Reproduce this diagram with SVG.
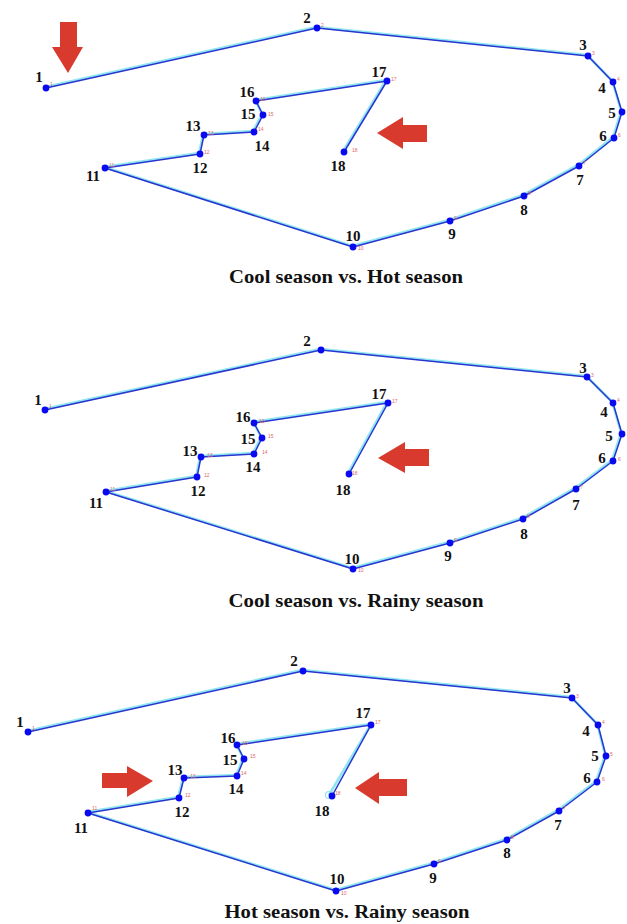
<svg xmlns="http://www.w3.org/2000/svg" width="627" height="924" viewBox="0 0 627 924">
<style>
.bg{fill:#ffffff}
.cy{fill:none;stroke:#8ee6f2;stroke-width:2.6;stroke-linejoin:round}
.bl{fill:none;stroke:#2a35cf;stroke-width:1.5;stroke-linejoin:round}
.dot{fill:#0a0af0}
.lab{font-family:"Liberation Serif","Times New Roman",serif;font-weight:bold;font-size:15px;fill:#111;text-anchor:middle}
.sm{font-family:"Liberation Sans",Arial,sans-serif;font-size:5px;fill:#e06a6a}
.ttl{font-family:"Liberation Serif","Times New Roman",serif;font-weight:bold;font-size:19px;fill:#111;text-anchor:middle}
.arr{fill:#d83a2e}
</style>
<rect class="bg" x="0" y="0" width="627" height="924"/>

<!-- Panel 1 -->
<g id="p1-connectors">
<polyline class="cy" transform="translate(-0.8,-1)" points="46,88 317,28 588,56 613,82 622,112 614,138 579,166 524,196 450,221 353,247 105,168 200,154 204,135 254,132 263,115 256,101 387,81 344,152"/>
<polyline class="bl" points="46,88 317,28 588,56 613,82 622,112 614,138 579,166 524,196 450,221 353,247 105,168 200,154 204,135 254,132 263,115 256,101 387,81 344,152"/>
</g>
<g id="p1-n1"><circle class="dot" cx="46" cy="88" r="3.4"/><text class="lab" x="39" y="82">1</text><text class="sm" x="50" y="86">1</text></g>
<g id="p1-n2"><circle class="dot" cx="317" cy="28" r="3.4"/><text class="lab" x="307" y="23">2</text><text class="sm" x="321" y="27">2</text></g>
<g id="p1-n3"><circle class="dot" cx="588" cy="56" r="3.4"/><text class="lab" x="583" y="50">3</text><text class="sm" x="592" y="55">3</text></g>
<g id="p1-n4"><circle class="dot" cx="613" cy="82" r="3.4"/><text class="lab" x="602" y="93">4</text><text class="sm" x="617" y="81">4</text></g>
<g id="p1-n5"><circle class="dot" cx="622" cy="112" r="3.4"/><text class="lab" x="612" y="118">5</text></g>
<g id="p1-n6"><circle class="dot" cx="614" cy="138" r="3.4"/><text class="lab" x="603" y="141">6</text><text class="sm" x="618" y="137">6</text></g>
<g id="p1-n7"><circle class="dot" cx="579" cy="166" r="3.4"/><text class="lab" x="580" y="185">7</text><text class="sm" x="583" y="165">7</text></g>
<g id="p1-n8"><circle class="dot" cx="524" cy="196" r="3.4"/><text class="lab" x="524" y="215">8</text><text class="sm" x="528" y="195">8</text></g>
<g id="p1-n9"><circle class="dot" cx="450" cy="221" r="3.4"/><text class="lab" x="452" y="239">9</text><text class="sm" x="454" y="220">9</text></g>
<g id="p1-n10"><circle class="dot" cx="353" cy="247" r="3.4"/><text class="lab" x="353" y="241">10</text><text class="sm" x="358" y="250">10</text></g>
<g id="p1-n11"><circle class="dot" cx="105" cy="168" r="3.4"/><text class="lab" x="93" y="181">11</text><text class="sm" x="109" y="167">11</text></g>
<g id="p1-n12"><circle class="dot" cx="200" cy="154" r="3.4"/><text class="lab" x="200" y="173">12</text><text class="sm" x="204" y="154">12</text></g>
<g id="p1-n13"><circle class="dot" cx="204" cy="135" r="3.4"/><text class="lab" x="193" y="131">13</text><text class="sm" x="208" y="135">13</text></g>
<g id="p1-n14"><circle class="dot" cx="254" cy="132" r="3.4"/><text class="lab" x="262" y="151">14</text><text class="sm" x="258" y="131">14</text></g>
<g id="p1-n15"><circle class="dot" cx="263" cy="115" r="3.4"/><text class="lab" x="248" y="119">15</text><text class="sm" x="268" y="116">15</text></g>
<g id="p1-n16"><circle class="dot" cx="256" cy="101" r="3.4"/><text class="lab" x="247" y="97">16</text><text class="sm" x="260" y="101">16</text></g>
<g id="p1-n17"><circle class="dot" cx="387" cy="81" r="3.4"/><text class="lab" x="379" y="77">17</text><text class="sm" x="391" y="81">17</text></g>
<g id="p1-n18"><circle class="dot" cx="344" cy="152" r="3.4"/><text class="lab" x="338" y="171">18</text><text class="sm" x="352" y="152">18</text></g>
<g id="p1-arrows">
<polygon class="arr" points="60,22 77,22 77,47 83,47 68,73 52,47 60,47"/>
<polygon class="arr" points="377,133 403,117 403,125 427,125 427,142 403,142 403,149"/>
</g>
<text id="p1-title" class="ttl" x="346" y="283" textLength="234" lengthAdjust="spacingAndGlyphs">Cool season vs. Hot season</text>

<!-- Panel 2 -->
<g id="p2-connectors">
<polyline class="cy" transform="translate(-0.8,-1)" points="45,410 321,350 587,377 613,403 622,434 613,461 576,489 523,519 450,543 353,569 106,492 197,477 201,457 254,454 262,438 254,423 388,403 349,474"/>
<polyline class="bl" points="45,410 321,350 587,377 613,403 622,434 613,461 576,489 523,519 450,543 353,569 106,492 197,477 201,457 254,454 262,438 254,423 388,403 349,474"/>
</g>
<g id="p2-n1"><circle class="dot" cx="45" cy="410" r="3.4"/><text class="lab" x="38" y="405">1</text><text class="sm" x="49" y="408">1</text></g>
<g id="p2-n2"><circle class="dot" cx="321" cy="350" r="3.4"/><text class="lab" x="307" y="346">2</text></g>
<g id="p2-n3"><circle class="dot" cx="587" cy="377" r="3.4"/><text class="lab" x="583" y="373">3</text><text class="sm" x="591" y="377">3</text></g>
<g id="p2-n4"><circle class="dot" cx="613" cy="403" r="3.4"/><text class="lab" x="604" y="417">4</text><text class="sm" x="617" y="402">4</text></g>
<g id="p2-n5"><circle class="dot" cx="622" cy="434" r="3.4"/><text class="lab" x="609" y="441">5</text></g>
<g id="p2-n6"><circle class="dot" cx="613" cy="461" r="3.4"/><text class="lab" x="602" y="463">6</text><text class="sm" x="618" y="461">6</text></g>
<g id="p2-n7"><circle class="dot" cx="576" cy="489" r="3.4"/><text class="lab" x="576" y="510">7</text><text class="sm" x="580" y="489">7</text></g>
<g id="p2-n8"><circle class="dot" cx="523" cy="519" r="3.4"/><text class="lab" x="524" y="539">8</text><text class="sm" x="527" y="518">8</text></g>
<g id="p2-n9"><circle class="dot" cx="450" cy="543" r="3.4"/><text class="lab" x="448" y="561">9</text><text class="sm" x="454" y="542">9</text></g>
<g id="p2-n10"><circle class="dot" cx="353" cy="569" r="3.4"/><text class="lab" x="352" y="564">10</text><text class="sm" x="358" y="572">10</text></g>
<g id="p2-n11"><circle class="dot" cx="106" cy="492" r="3.4"/><text class="lab" x="96" y="508">11</text><text class="sm" x="110" y="491">11</text></g>
<g id="p2-n12"><circle class="dot" cx="197" cy="477" r="3.4"/><text class="lab" x="198" y="496">12</text><text class="sm" x="204" y="477">12</text></g>
<g id="p2-n13"><circle class="dot" cx="201" cy="457" r="3.4"/><text class="lab" x="190" y="456">13</text><text class="sm" x="207" y="457">13</text></g>
<g id="p2-n14"><circle class="dot" cx="254" cy="454" r="3.4"/><text class="lab" x="253" y="472">14</text><text class="sm" x="262" y="454">14</text></g>
<g id="p2-n15"><circle class="dot" cx="262" cy="438" r="3.4"/><text class="lab" x="248" y="444">15</text><text class="sm" x="268" y="438">15</text></g>
<g id="p2-n16"><circle class="dot" cx="254" cy="423" r="3.4"/><text class="lab" x="243" y="422">16</text><text class="sm" x="259" y="423">16</text></g>
<g id="p2-n17"><circle class="dot" cx="388" cy="403" r="3.4"/><text class="lab" x="379" y="399">17</text><text class="sm" x="392" y="403">17</text></g>
<g id="p2-n18"><circle class="dot" cx="349" cy="474" r="3.4"/><text class="lab" x="343" y="495">18</text><text class="sm" x="352" y="475">18</text></g>
<g id="p2-arrows">
<polygon class="arr" points="378,458 405,442 405,449 429,449 429,466 405,466 405,473"/>
</g>
<text id="p2-title" class="ttl" x="356" y="607" textLength="255" lengthAdjust="spacingAndGlyphs">Cool season vs. Rainy season</text>

<!-- Panel 3 -->
<g id="p3-connectors">
<polyline class="cy" transform="translate(-0.8,-1)" points="28,732 303,671 572,698 598,725 606,756 597,782 559,811 507,840 434,864 336,891 88,813 179,798 184,778 237,776 244,759 237,745 371,725"/>
<polyline class="cy" points="370,726 329,795"/>
<circle cx="329" cy="795" r="3.5" fill="none" stroke="#8ee6f2" stroke-width="1.2"/>
<polyline class="bl" points="28,732 303,671 572,698 598,725 606,756 597,782 559,811 507,840 434,864 336,891 88,813 179,798 184,778 237,776 244,759 237,745 371,725 332,796"/>
</g>
<g id="p3-n1"><circle class="dot" cx="28" cy="732" r="3.4"/><text class="lab" x="20" y="727">1</text><text class="sm" x="32" y="730">1</text></g>
<g id="p3-n2"><circle class="dot" cx="303" cy="671" r="3.4"/><text class="lab" x="294" y="666">2</text></g>
<g id="p3-n3"><circle class="dot" cx="572" cy="698" r="3.4"/><text class="lab" x="567" y="693">3</text><text class="sm" x="576" y="698">3</text></g>
<g id="p3-n4"><circle class="dot" cx="598" cy="725" r="3.4"/><text class="lab" x="586" y="736">4</text><text class="sm" x="602" y="724">4</text></g>
<g id="p3-n5"><circle class="dot" cx="606" cy="756" r="3.4"/><text class="lab" x="595" y="761">5</text><text class="sm" x="610" y="756">5</text></g>
<g id="p3-n6"><circle class="dot" cx="597" cy="782" r="3.4"/><text class="lab" x="587" y="783">6</text><text class="sm" x="602" y="781">6</text></g>
<g id="p3-n7"><circle class="dot" cx="559" cy="811" r="3.4"/><text class="lab" x="558" y="830">7</text><text class="sm" x="563" y="810">7</text></g>
<g id="p3-n8"><circle class="dot" cx="507" cy="840" r="3.4"/><text class="lab" x="507" y="858">8</text><text class="sm" x="511" y="839">8</text></g>
<g id="p3-n9"><circle class="dot" cx="434" cy="864" r="3.4"/><text class="lab" x="433" y="883">9</text><text class="sm" x="438" y="863">9</text></g>
<g id="p3-n10"><circle class="dot" cx="336" cy="891" r="3.4"/><text class="lab" x="337" y="884">10</text><text class="sm" x="341" y="895">10</text></g>
<g id="p3-n11"><circle class="dot" cx="88" cy="813" r="3.4"/><text class="lab" x="81" y="833">11</text><text class="sm" x="92" y="810">11</text></g>
<g id="p3-n12"><circle class="dot" cx="179" cy="798" r="3.4"/><text class="lab" x="182" y="817">12</text><text class="sm" x="185" y="797">12</text></g>
<g id="p3-n13"><circle class="dot" cx="184" cy="778" r="3.4"/><text class="lab" x="175" y="775">13</text><text class="sm" x="190" y="778">13</text></g>
<g id="p3-n14"><circle class="dot" cx="237" cy="776" r="3.4"/><text class="lab" x="236" y="794">14</text><text class="sm" x="241" y="775">14</text></g>
<g id="p3-n15"><circle class="dot" cx="244" cy="759" r="3.4"/><text class="lab" x="230" y="765">15</text><text class="sm" x="250" y="758">15</text></g>
<g id="p3-n16"><circle class="dot" cx="237" cy="745" r="3.4"/><text class="lab" x="228" y="743">16</text><text class="sm" x="242" y="745">16</text></g>
<g id="p3-n17"><circle class="dot" cx="371" cy="725" r="3.4"/><text class="lab" x="363" y="718">17</text><text class="sm" x="375" y="724">17</text></g>
<g id="p3-n18"><circle class="dot" cx="332" cy="796" r="3.4"/><text class="lab" x="322" y="816">18</text><text class="sm" x="335" y="795">18</text></g>
<g id="p3-arrows">
<polygon class="arr" points="102,773 127,773 127,766 153,781 127,797 127,788 102,788"/>
<polygon class="arr" points="355,788 379,772 379,779 407,779 407,796 379,796 379,804"/>
</g>
<text id="p3-title" class="ttl" x="347" y="918" textLength="245" lengthAdjust="spacingAndGlyphs">Hot season vs. Rainy season</text>
</svg>
